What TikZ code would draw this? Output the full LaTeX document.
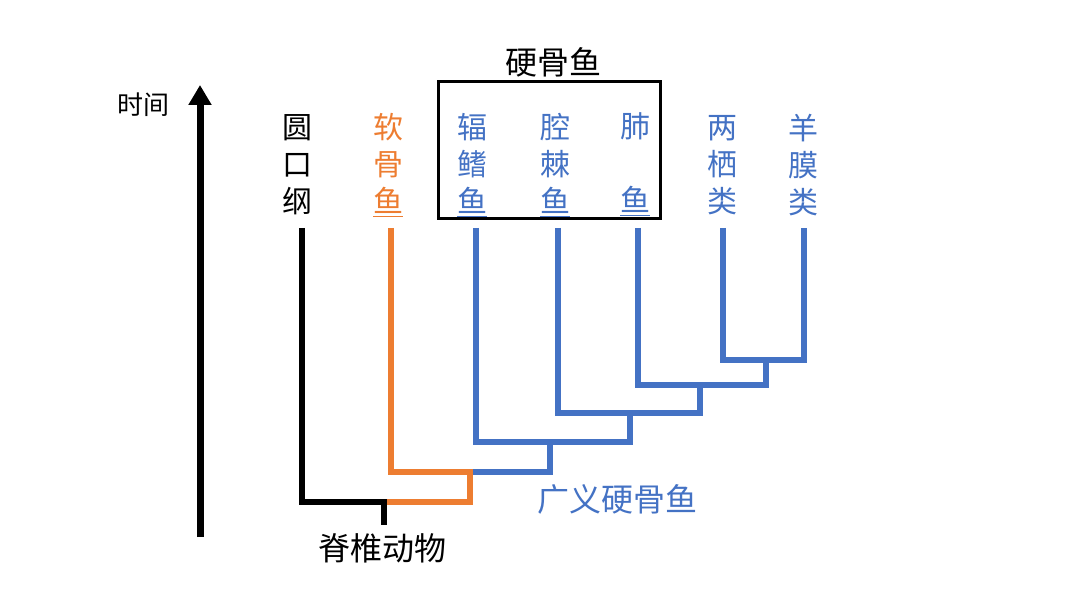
\documentclass[tikz,border=0pt]{standalone}
\usepackage{fontspec}
\newfontfamily\cjk{Noto Sans CJK SC}
\usepackage{tikz}
\usetikzlibrary{arrows.meta}
\definecolor{cladeblue}{HTML}{4472C4}
\definecolor{cladeorange}{HTML}{ED7D31}
\tikzset{
  taxon/.style={
    align=center, inner sep=0pt,
    font=\cjk\fontsize{15}{18.5}\selectfont
  },
  branch/.style={draw=#1, line width=3pt},
  grouplabel/.style={inner sep=0pt, font=\cjk\fontsize{16}{18}\selectfont}
}

\begin{document}
\begin{tikzpicture}[x=0.5pt, y=-0.5pt,
  timeaxis/.style={line width=3.5pt, -{Triangle[width=11pt, length=10pt]}},
  groupbox/.style={draw, line width=1.5pt, minimum width=111pt, minimum height=68.5pt, inner sep=0pt}
]
\useasboundingbox (0,0) rectangle (1080,608);

%% Time axis
\node[inner sep=0pt, font=\cjk\fontsize{13}{15}\selectfont] (time) at (143,105) {时间};
\coordinate (tbottom) at (200,537);
\coordinate (ttop) at (200,85);
\draw[timeaxis] (tbottom) -- (ttop);

%% Bony fish box
\node[groupbox] (bony) at (549,150.5) {};
\node[grouplabel] (bonytitle) at (553,62) {硬骨鱼};

%% Taxa
\node[taxon] (yuankou) at (297,165) {圆\\口\\纲};
\node[taxon, text=cladeorange] (ruangu) at (388,165) {软\\骨\\\underline{鱼}};
\node[taxon, text=cladeblue] (fuqi) at (472,165) {辐\\鳍\\\underline{鱼}};
\node[taxon, text=cladeblue] (qiangji) at (555,165) {腔\\棘\\\underline{鱼}};
\node[taxon, text=cladeblue] (feiyu) at (635,165) {肺\\\mbox{}\\\underline{鱼}};
\node[taxon, text=cladeblue] (liangqi) at (722,165) {两\\栖\\类};
\node[taxon, text=cladeblue] (yangmo) at (803,165) {羊\\膜\\类};

%% Leaf tops
\foreach \n/\x in {yuankou/302, ruangu/391, fuqi/476, qiangji/558, feiyu/638, liangqi/723, yangmo/804}
  \coordinate (\n-t) at (\x,228);

%% Junctions
\coordinate (jA) at (766,360);
\coordinate (jB) at (700,385);
\coordinate (jC) at (630,413);
\coordinate (jD) at (550,442);
\coordinate (jE) at (470,472);
\coordinate (jF) at (384,502);
\coordinate (root) at (384,525);

%% Tree
\draw[branch=cladeblue] (liangqi-t) |- (jA) -| (yangmo-t);
\draw[branch=cladeblue] (feiyu-t) |- (jB) -| (jA);
\draw[branch=cladeblue] (qiangji-t) |- (jC) -| (jB);
\draw[branch=cladeblue] (fuqi-t) |- (jD) -| (jC);
\draw[branch=cladeblue] (jE) -| (jD);
\draw[branch=cladeorange] (ruangu-t) |- (jE) |- (jF);
\draw[branch=black] (yuankou-t) |- (jF) -- (root);

%% Group names
\node[grouplabel, text=cladeblue] (osteich) at (617,499) {广义硬骨鱼};
\node[grouplabel] (vert) at (382,548) {脊椎动物};

\end{tikzpicture}
\end{document}
